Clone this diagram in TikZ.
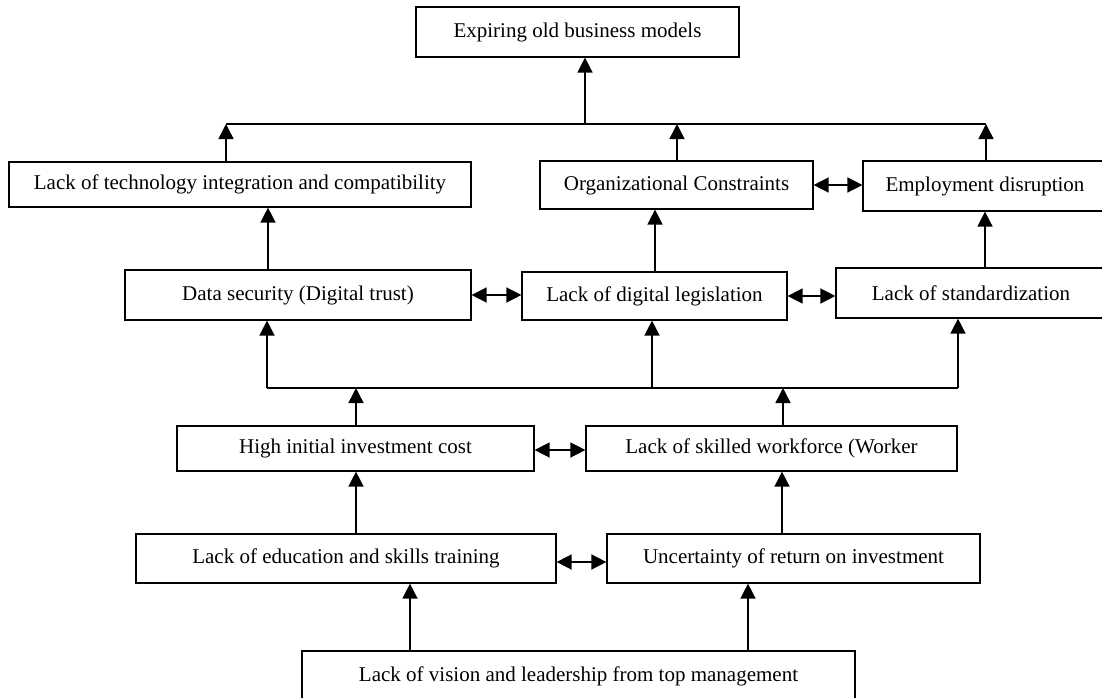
\documentclass[tikz,border=0pt]{standalone}
\usepackage{fontspec}
\setmainfont{Liberation Serif}
\usetikzlibrary{arrows.meta,calc}
\begin{document}
\begin{tikzpicture}[x=1pt,y=-1pt,
  box/.style={draw=black,line width=1.2pt,fill=white,inner sep=0pt,font=\fontsize{21}{24}\selectfont,text=black},
  arr/.style={line width=1.5pt,-{Triangle[width=15pt,length=15pt]}},
  darr/.style={line width=1.5pt,{Triangle[width=15pt,length=15pt]}-{Triangle[width=15pt,length=15pt]}},
  bar/.style={line width=1.5pt}]
\useasboundingbox[fill=white] (0,0) rectangle (1102,698);
% nodes
\node[box,minimum width=323pt,minimum height=50pt] (top) at (577.5,32) {Expiring old business models};
\node[box,minimum width=462pt,minimum height=45pt] (tech) at (240,184.5) {Lack of technology integration and compatibility};
\node[box,minimum width=273pt,minimum height=48pt] (org) at (676.5,185) {Organizational Constraints};
\node[box,minimum width=244pt,minimum height=50pt] (emp) at (985,186) {Employment disruption};
\node[box,minimum width=346pt,minimum height=50pt] (data) at (298,295) {Data security (Digital trust)};
\node[box,minimum width=265pt,minimum height=48pt] (leg) at (654.5,296) {Lack of digital legislation};
\node[box,minimum width=270pt,minimum height=50pt] (std) at (971,293) {Lack of standardization};
\node[box,minimum width=357pt,minimum height=45pt] (high) at (355.5,448.5) {High initial investment cost};
\node[box,minimum width=371pt,minimum height=45pt] (skill) at (771.5,448.5) {Lack of skilled workforce (Worker};
\node[box,minimum width=420pt,minimum height=49pt] (edu) at (346,558.5) {Lack of education and skills training};
\node[box,minimum width=373pt,minimum height=49pt] (unc) at (793.5,558.5) {Uncertainty of return on investment};
\node[box,minimum width=553pt,minimum height=51pt] (vis) at (578.5,676.5) {Lack of vision and leadership from top management};
% bus coordinates
\coordinate (b1l) at (226,124);
\coordinate (b1m) at (585,124);
\coordinate (b1o) at (677,124);
\coordinate (b1r) at (986,124);
\coordinate (b2l) at (267,388);
\coordinate (b2m) at (652,388);
\coordinate (b2r) at (958,388);
\coordinate (b2a) at (356,388);
\coordinate (b2b) at (783,388);
\coordinate (c1) at (268,0);
\coordinate (c2) at (655,0);
\coordinate (c3) at (985,0);
\coordinate (c4) at (782,0);
% top bus
\draw[bar] (b1l) -- (b1r);
\draw[arr] (b1m) -- (b1m |- top.south);
\draw[arr] (tech.north -| b1l) -- (b1l);
\draw[arr] (org.north -| b1o) -- (b1o);
\draw[arr] (emp.north -| b1r) -- (b1r);
\draw[darr] (org.east) -- (org.east -| emp.west);
% second level
\draw[arr] (data.north -| c1) -- (c1 |- tech.south);
\draw[arr] (leg.north -| c2) -- (c2 |- org.south);
\draw[arr] (std.north -| c3) -- (c3 |- emp.south);
\draw[darr] (data.east) -- (data.east -| leg.west);
\draw[darr] (leg.east) -- (leg.east -| std.west);
% middle bus
\draw[bar] (b2l) -- (b2r);
\draw[arr] (b2l) -- (b2l |- data.south);
\draw[arr] (b2m) -- (b2m |- leg.south);
\draw[arr] (b2r) -- (b2r |- std.south);
\draw[arr] (high.north -| b2a) -- (b2a);
\draw[arr] (skill.north -| b2b) -- (b2b);
\draw[darr] ([yshift=-1.5pt]high.east) -- ([yshift=-1.5pt]high.east -| skill.west);
% lower levels
\draw[arr] (edu.north -| b2a) -- (b2a |- high.south);
\draw[arr] (unc.north -| c4) -- (c4 |- skill.south);
\draw[darr] ([yshift=-3.5pt]edu.east) -- ([yshift=-3.5pt]edu.east -| unc.west);
\coordinate (v1) at (410,651);
\coordinate (v2) at (748,651);
\draw[arr] (vis.north -| v1) -- (v1 |- edu.south);
\draw[arr] (vis.north -| v2) -- (v2 |- unc.south);
\end{tikzpicture}
\end{document}
